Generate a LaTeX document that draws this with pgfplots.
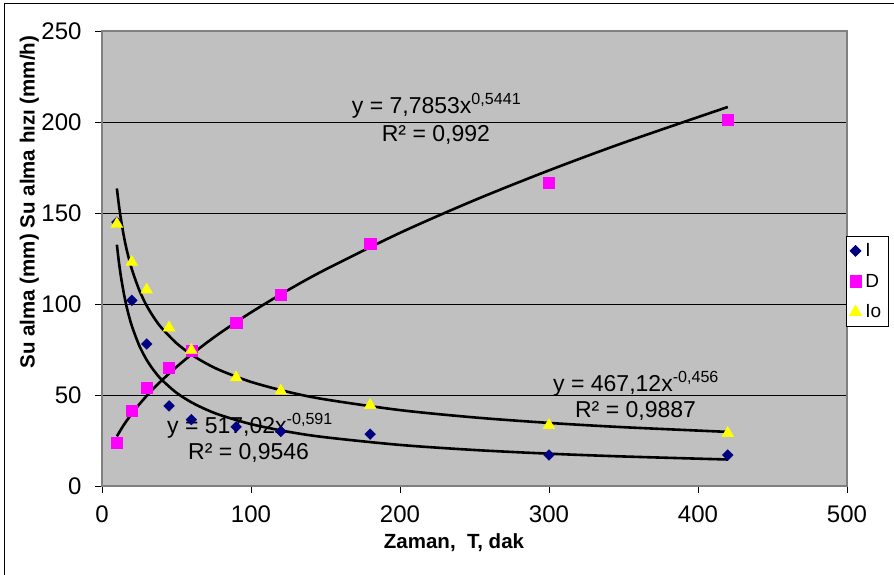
\documentclass[border=0pt]{standalone}
\usepackage{fontspec}
\setmainfont{Liberation Sans}
\usepackage{pgfplots}
\pgfplotsset{compat=1.18}
\definecolor{plotgray}{RGB}{192,192,192}
\definecolor{framegray}{RGB}{128,128,128}
\definecolor{navyI}{RGB}{0,0,128}
\definecolor{magD}{RGB}{255,0,255}
\definecolor{yelIo}{RGB}{255,255,0}

\begin{document}
\begin{tikzpicture}[x=1pt,y=1pt]
\useasboundingbox (0,0) rectangle (894,575);
% chart area frame (left and top edges visible)
\draw[black, line width=1pt] (4,0) -- (4,571) -- (894,571);
\begin{axis}[
  at={(102pt,89pt)}, anchor=south west,
  scale only axis, width=745pt, height=455pt,
  xmin=0, xmax=500, ymin=0, ymax=250,
  xtick={0,100,...,500}, ytick={0,50,...,250},
  xtick pos=bottom, ytick pos=left,
  tick align=outside, major tick length=7pt,
  tick style={black, line width=0.8pt},
  axis background/.style={fill=plotgray},
  axis line style={draw=framegray, line width=1.6pt},
  ymajorgrids, major grid style={black, line width=0.8pt},
  /pgf/number format/assume math mode=true,
  ticklabel style={font=\fontsize{24}{28}\selectfont},
  xticklabel style={yshift=-9pt},
  yticklabel style={xshift=-10pt},
  xlabel={Zaman,\ \ T, dak},
  ylabel={Su alma (mm) Su alma hızı (mm/h)},
  xlabel style={font=\fontsize{20.5}{24}\selectfont\bfseries,
    at={(axis description cs:0.4725,-0.125)}, anchor=center},
  ylabel style={font=\fontsize{20.5}{24}\selectfont\bfseries,
    at={(axis description cs:-0.0975,0.624)}, anchor=center},
  legend style={at={(0.999,0.549)}, anchor=north west, draw=black,
    line width=0.8pt, fill=white, font=\fontsize{19}{22}\selectfont,
    row sep=14pt, inner xsep=3pt, inner ysep=6pt,
    nodes={inner ysep=1pt, inner xsep=4pt}},
  legend cell align=left,
  clip=false,
]
% I
\addplot[only marks, mark=square*, mark size=3.8pt, color=navyI,
  mark options={rotate=45}]
coordinates {(10,145) (20,102) (30,78) (45,44) (60,36.5) (90,32.5)
  (120,30) (180,28.5) (300,17) (420,17)};
\addlegendentry{I}
% D
\addplot[only marks, mark=square*, mark size=5.6pt, color=magD]
coordinates {(10,24) (20,41.3) (30,54.1) (45,65) (60,74.2) (90,89.7)
  (120,105) (180,133.2) (300,166.7) (420,201.2)};
\addlegendentry{D}
% Io
\addplot[only marks, mark=triangle*, mark size=6.8pt, color=yelIo]
coordinates {(10,144) (20,123) (30,107.8) (45,87) (60,74.6) (90,59.6)
  (120,52.3) (180,44.4) (300,33.4) (420,29)};
\addlegendentry{Io}
% power trend lines
\addplot[black, line width=2.6pt, smooth, forget plot]
coordinates {(10,27.25) (11,28.70) (13,31.43) (15,33.98) (17,36.37)
  (20,39.73) (25,44.86) (30,49.54) (35,53.88) (40,57.94) (50,65.42)
  (60,72.24) (70,78.56) (80,84.48) (100,95.38) (125,107.70)
  (150,118.93) (200,139.08) (250,157.03) (300,173.41) (350,188.58)
  (420,208.25)};
\addplot[black, line width=2.6pt, smooth, forget plot]
coordinates {(10,163.47) (11,156.51) (12,150.43) (13,145.04) (15,135.87)
  (17,128.33) (20,119.17) (25,107.64) (30,99.05) (35,92.33) (40,86.87)
  (50,78.47) (60,72.21) (70,67.31) (80,63.33) (100,57.20) (125,51.67)
  (150,47.55) (200,41.70) (250,37.67) (300,34.66) (350,32.31)
  (420,29.73)};
\addplot[black, line width=2.6pt, smooth, forget plot]
coordinates {(10,132.59) (11,125.33) (12,119.05) (13,113.55) (15,104.34)
  (17,96.90) (20,88.02) (25,77.15) (30,69.27) (35,63.24) (40,58.44)
  (50,51.22) (60,45.99) (70,41.98) (80,38.80) (100,34.00) (125,29.80)
  (150,26.76) (200,22.57) (250,19.78) (300,17.76) (350,16.22)
  (420,14.56)};
% trend line labels
\begin{scope}[every node/.style={font=\fontsize{23}{27}\selectfont,
    inner sep=0pt, anchor=base west}]
\node at (axis cs:167.6,204.9) {y = 7,7853x\textsuperscript{0,5441}};
\node at (axis cs:187.7,189.2) {R² = 0,992};
\node at (axis cs:302.7,51.8) {y = 467,12x\textsuperscript{-0,456}};
\node at (axis cs:317.4,37.4) {R² = 0,9887};
\node at (axis cs:43.6,29.1) {y = 517,02x\textsuperscript{-0,591}};
\node at (axis cs:57.7,14.3) {R² = 0,9546};
\end{scope}
\end{axis}
\end{tikzpicture}
\end{document}
